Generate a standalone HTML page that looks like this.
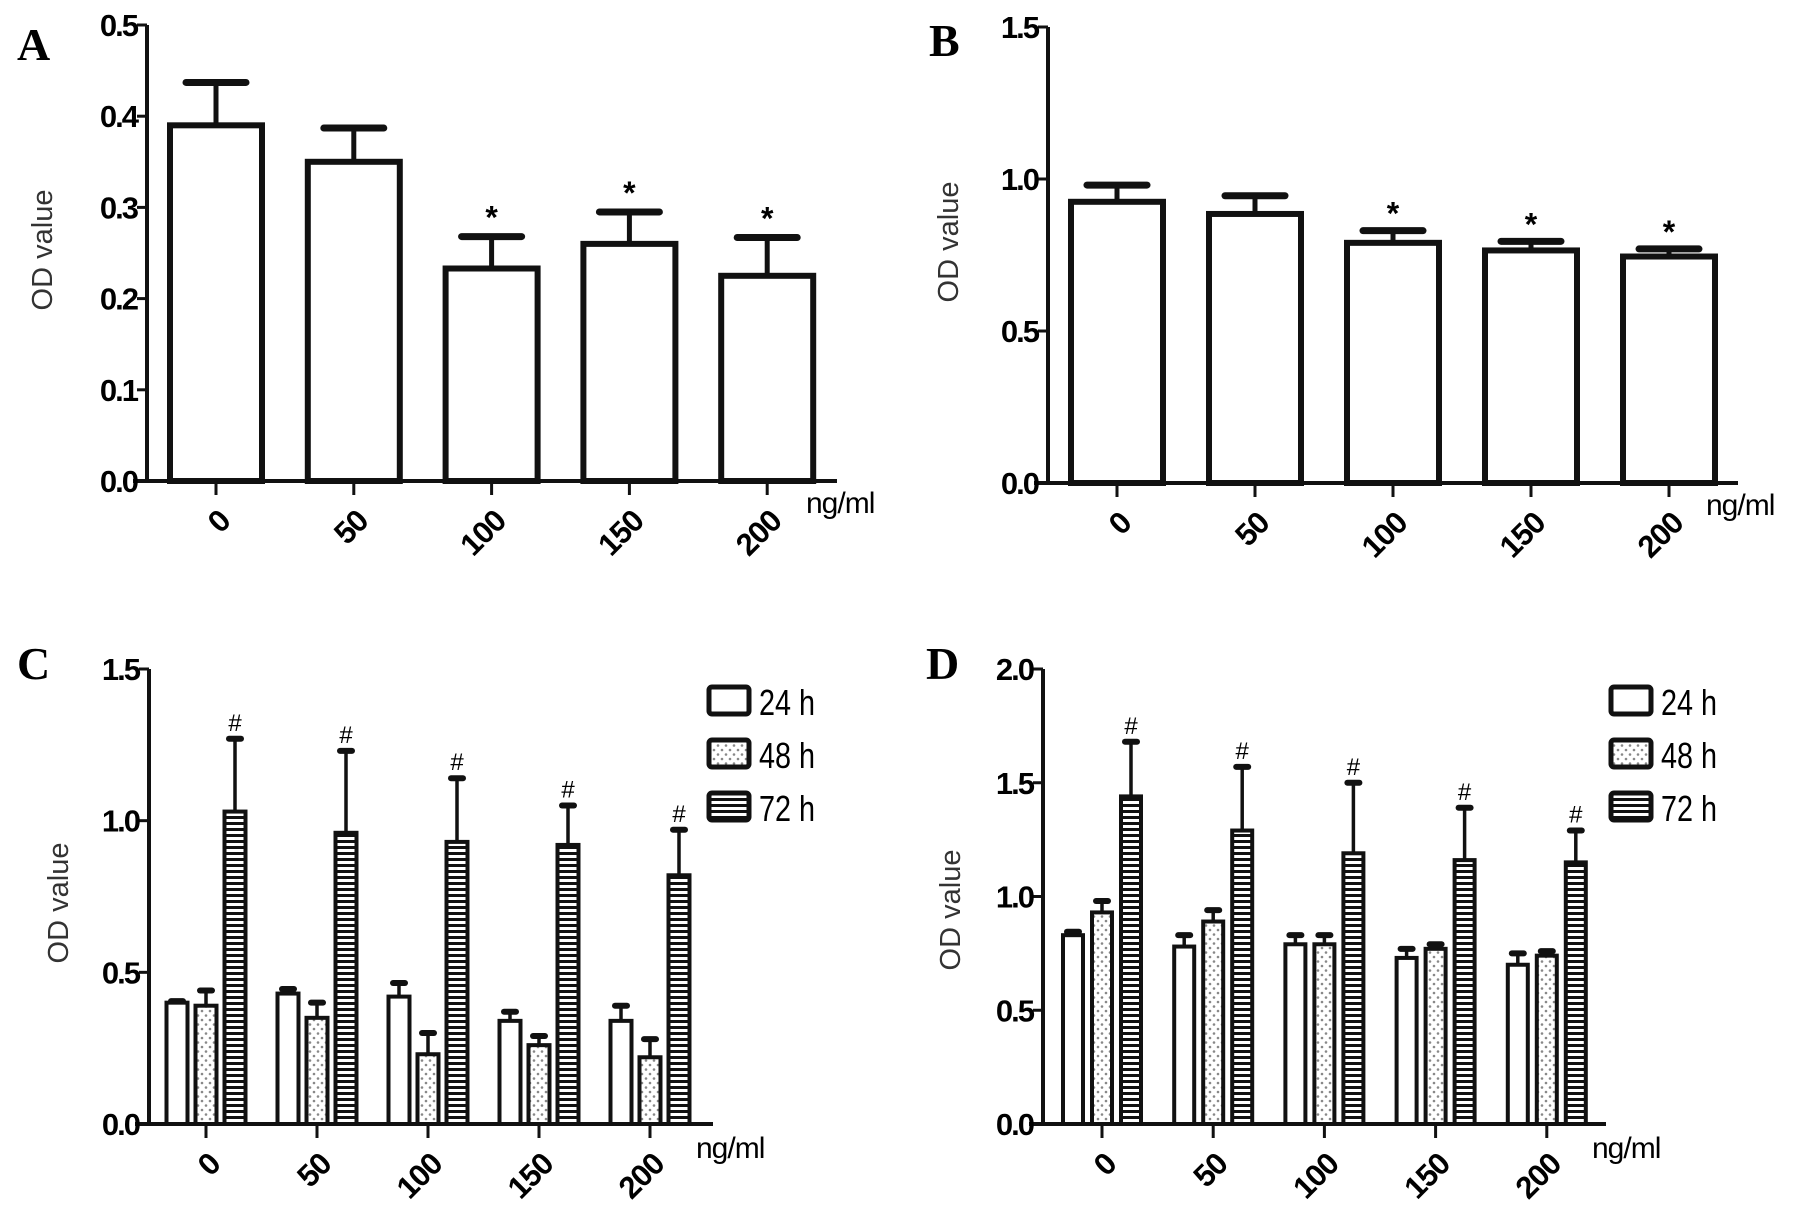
<!DOCTYPE html>
<html><head><meta charset="utf-8"><style>
body{margin:0;background:#fff;}
svg{display:block;}
</style></head><body>
<svg id="fig" width="1795" height="1216" viewBox="0 0 1795 1216" xmlns="http://www.w3.org/2000/svg" font-family="Liberation Sans, Arial, sans-serif">
<defs>
<pattern id="dots" patternUnits="userSpaceOnUse" width="8" height="9"><rect width="8" height="9" fill="#fff"/><circle cx="2" cy="3" r="1.3" fill="#888"/><circle cx="6" cy="7.5" r="1.3" fill="#888"/></pattern>
<pattern id="stripes" patternUnits="userSpaceOnUse" width="8" height="6"><rect width="8" height="6" fill="#fff"/><rect y="0" width="8" height="3" fill="#111"/></pattern>
</defs>
</svg>
<script>
const categories = ["0","50","100","150","200"];
const aMeans = [0.39,0.35,0.233,0.26,0.225];
const aErr = [0.437,0.387,0.268,0.295,0.267];
const aSig = ["","","*","*","*"];
const bMeans = [0.925,0.885,0.79,0.765,0.745];
const bErr = [0.98,0.945,0.83,0.795,0.77];
const bSig = ["","","*","*","*"];
const c24 = [0.40,0.43,0.42,0.34,0.34];
const c24e = [0.405,0.445,0.465,0.37,0.39];
const c48 = [0.39,0.35,0.23,0.26,0.22];
const c48e = [0.44,0.40,0.30,0.29,0.28];
const c72 = [1.03,0.96,0.93,0.92,0.82];
const c72e = [1.27,1.23,1.14,1.05,0.97];
const d24 = [0.83,0.78,0.79,0.73,0.70];
const d24e = [0.845,0.83,0.83,0.77,0.75];
const d48 = [0.93,0.89,0.79,0.77,0.74];
const d48e = [0.98,0.94,0.83,0.79,0.76];
const d72 = [1.44,1.29,1.19,1.16,1.15];
const d72e = [1.68,1.57,1.50,1.39,1.29];
const aTicks = ["0.0","0.1","0.2","0.3","0.4","0.5"];
const bTicks = ["0.0","0.5","1.0","1.5"];
const cTicks = ["0.0","0.5","1.0","1.5"];
const dTicks = ["0.0","0.5","1.0","1.5","2.0"];
const legendLabels = ["24 h","48 h","72 h"];

const svg = document.getElementById('fig');
const NS = "http://www.w3.org/2000/svg";
function mk(tag, attrs, parent){
  const e = document.createElementNS(NS, tag);
  for (const k in attrs) e.setAttribute(k, attrs[k]);
  (parent||svg).appendChild(e);
  return e;
}
function panel(cfg){
  const g = mk('g', {});
  
  
  const y = v => cfg.y0 - (v / cfg.ymax) * (cfg.y0 - cfg.yTop);
  const x = i => cfg.x0 + i * cfg.step;
  const sw = cfg.sw;
  const L = mk('text', {x:cfg.lx, y:cfg.ly, style:'font-family:"Liberation Serif",serif;font-weight:bold;font-size:46px'}, g);
  L.textContent = cfg.letter;
  
  
  const T = mk('text', {x:0, y:0, 'font-size':29, fill:'#333', 'text-anchor':'middle', transform:`translate(${cfg.tx},${cfg.ty}) rotate(-90)`}, g);
  T.textContent = 'OD value';
  
  
  cfg.series.forEach((s, si) => {
    s.m.forEach((v, i) => {
      const cx = x(i) + s.off;
      const top = y(v), etop = y(s.e[i]);
      const eb = mk('line', {x1:cx, x2:cx, y1:top, y2:etop, stroke:'#111', 'stroke-width':cfg.ew}, g);
      
      
      const cap = mk('line', {x1:cx - cfg.cap/2, x2:cx + cfg.cap/2, y1:etop, y2:etop, stroke:'#111', 'stroke-width':cfg.capw, 'stroke-linecap':'round'}, g);
      
      
      const r = mk('rect', {x:cx - cfg.bw/2, y:top, width:cfg.bw, height:cfg.y0 - top, fill:s.fill, stroke:'#111', 'stroke-width':sw}, g);
      
      
      if (s.sig && s.sig[i]) {
        const st = mk('text', {x:cx, y:etop - cfg.sigGap, 'text-anchor':'middle', 'font-size':cfg.sigSize, 'font-weight':cfg.sigWeight}, g);
        st.textContent = s.sig[i];
        
        
      }
    });
  });
  const ya = mk('line', {x1:cfg.ax, x2:cfg.ax, y1:cfg.yTop, y2:cfg.y0, stroke:'#111', 'stroke-width':4}, g);
  
  
  const xa = mk('line', {x1:cfg.ax - 14, x2:cfg.xEnd, y1:cfg.y0, y2:cfg.y0, stroke:'#111', 'stroke-width':4}, g);
  
  
  cfg.ticks.forEach(t => {
    const ty = y(parseFloat(t));
    mk('line', {x1:cfg.ax - 10, x2:cfg.ax, y1:ty, y2:ty, stroke:'#111', 'stroke-width':3}, g);
    const tl = mk('text', {x:cfg.ax - 10, y:ty + 11, 'text-anchor':'end', 'font-size':31, 'font-weight':'bold', 'letter-spacing':-2}, g);
    tl.textContent = t;
    
    
  });
  categories.forEach((c, i) => {
    const tx = x(i);
    mk('line', {x1:tx, x2:tx, y1:cfg.y0, y2:cfg.y0 + 14, stroke:'#111', 'stroke-width':3}, g);
    const cl = mk('text', {x:0, y:0, 'text-anchor':'end', 'font-size':31, 'font-weight':'bold', 'letter-spacing':-1, transform:`translate(${tx + 16},${cfg.y0 + 42}) rotate(-45)`}, g);
    cl.textContent = c;
    
    
  });
  const u = mk('text', {x:cfg.ux, y:cfg.uy, 'font-size':30, 'letter-spacing':-1}, g);
  u.textContent = 'ng/ml';
  
  
  if (cfg.legend) {
    const fills = ['#fff', 'url(#dots)', 'url(#stripes)'];
    legendLabels.forEach((lab, i) => {
      const ly = cfg.legend.y + i * 53;
      const lg = mk('g', {}, g);
      
      
      mk('rect', {x:cfg.legend.x, y:ly, width:40, height:27, fill:fills[i], stroke:'#111', 'stroke-width':5, rx:3}, lg);
      const bx = cfg.legend.x + 50, by = ly + 28;
      const lt = mk('text', {x:0, y:0, 'font-size':36, transform:`translate(${bx},${by}) scale(0.8,1)`}, lg);
      lt.textContent = lab;
    });
  }
}
panel({letter:'A', lx:17, ly:60, tx:52, ty:250, ax:147, yTop:25, y0:481, ymax:0.5, xEnd:837, x0:216, step:137.8, bw:92, sw:6, ew:5, cap:60, capw:7, ticks:aTicks, ux:806, uy:513, sigGap:8, sigSize:32, sigWeight:'bold',
  series:[{m:aMeans, e:aErr, sig:aSig, off:0, fill:'#fff'}]});
panel({letter:'B', lx:929, ly:56, tx:958, ty:242, ax:1048, yTop:27, y0:483, ymax:1.5, xEnd:1738, x0:1117, step:138, bw:92, sw:6, ew:5, cap:60, capw:7, ticks:bTicks, ux:1706, uy:515, sigGap:6, sigSize:32, sigWeight:'bold',
  series:[{m:bMeans, e:bErr, sig:bSig, off:0, fill:'#fff'}]});
panel({letter:'C', lx:17, ly:679, tx:68, ty:903, ax:149, yTop:669, y0:1124, ymax:1.5, xEnd:713, x0:206, step:111, bw:21, sw:4, ew:3.5, cap:12, capw:6, ticks:cTicks, ux:696, uy:1158, sigGap:8, sigSize:24, sigWeight:'normal',
  legend:{x:709, y:687},
  series:[{name:'24h', m:c24, e:c24e, off:-29, fill:'#fff'},{name:'48h', m:c48, e:c48e, off:0, fill:'url(#dots)'},{name:'72h', m:c72, e:c72e, sig:["#","#","#","#","#"], off:29, fill:'url(#stripes)'}]});
panel({letter:'D', lx:926, ly:679, tx:960, ty:910, ax:1043, yTop:669, y0:1124, ymax:2.0, xEnd:1606, x0:1102, step:111.2, bw:20, sw:4, ew:3.5, cap:12, capw:6, ticks:dTicks, ux:1592, uy:1158, sigGap:8, sigSize:24, sigWeight:'normal',
  legend:{x:1611, y:687},
  series:[{name:'24h', m:d24, e:d24e, off:-29, fill:'#fff'},{name:'48h', m:d48, e:d48e, off:0, fill:'url(#dots)'},{name:'72h', m:d72, e:d72e, sig:["#","#","#","#","#"], off:29, fill:'url(#stripes)'}]});
</script>
</body></html>
